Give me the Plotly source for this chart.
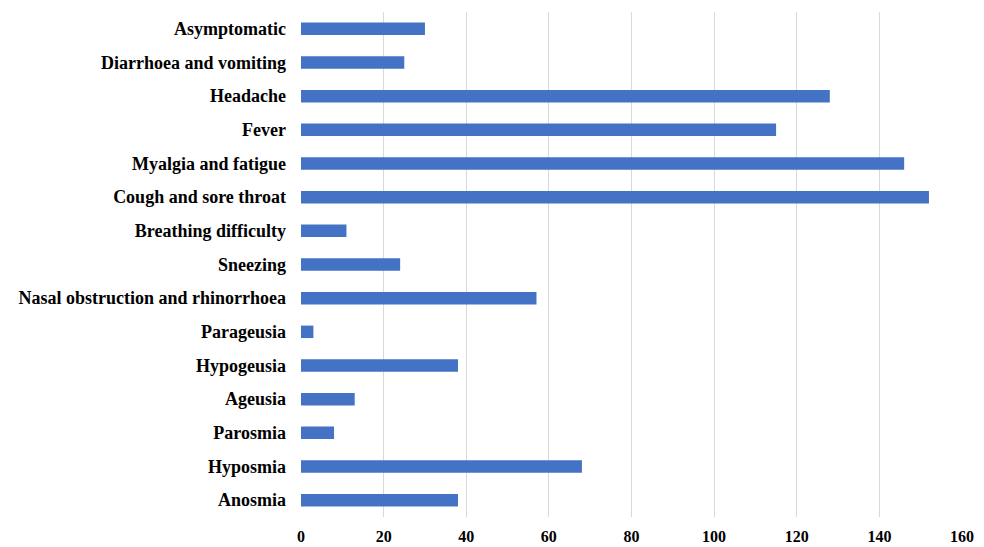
import plotly.graph_objects as go

# Symptom categories, listed bottom to top
symptoms = [
    "Anosmia", "Hyposmia", "Parosmia", "Ageusia", "Hypogeusia", "Parageusia",
    "Nasal obstruction and rhinorrhoea", "Sneezing", "Breathing difficulty",
    "Cough and sore throat", "Myalgia and fatigue", "Fever", "Headache",
    "Diarrhoea and vomiting", "Asymptomatic",
]
counts = [38, 68, 8, 13, 38, 3, 57, 24, 11, 152, 146, 115, 128, 25, 30]
x_ticks = [0, 20, 40, 60, 80, 100, 120, 140, 160]

fig = go.Figure(
    go.Bar(
        x=counts,
        y=symptoms,
        orientation="h",
        marker=dict(color="#4472C4", line=dict(width=0)),
    )
)

font_family = "Liberation Serif, Times New Roman, serif"

fig.update_layout(
    width=984,
    height=547,
    margin=dict(l=301, r=22, t=12, b=30, autoexpand=False),
    paper_bgcolor="white",
    plot_bgcolor="white",
    bargap=0.63,
    showlegend=False,
    font=dict(family=font_family, color="#000000"),
)

fig.update_xaxes(
    range=[0, 160],
    tickvals=x_ticks,
    ticktext=[f"<b>{v}</b>" for v in x_ticks],
    tickfont=dict(family=font_family, size=16, color="#000000"),
    showgrid=True,
    gridcolor="#D9D9D9",
    gridwidth=1,
    zeroline=False,
    showline=False,
    ticks="",
    automargin=False,
    ticklabelstandoff=8,
)

fig.update_yaxes(
    categoryorder="array",
    categoryarray=symptoms,
    tickvals=symptoms,
    ticktext=[f"<b>{s}</b>" for s in symptoms],
    tickfont=dict(family=font_family, size=18, color="#000000"),
    showgrid=False,
    zeroline=False,
    showline=False,
    ticks="",
    automargin=False,
    ticklabelstandoff=14,
)

fig.write_html("out.html")
